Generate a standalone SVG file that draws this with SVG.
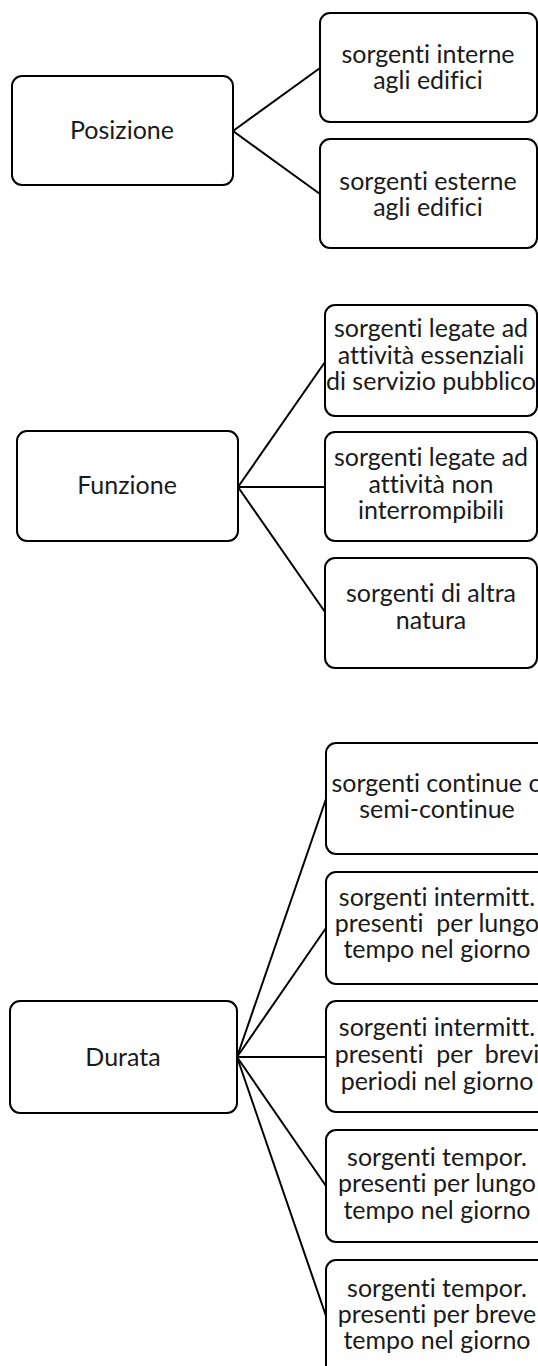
<svg xmlns="http://www.w3.org/2000/svg" width="538" height="1366" viewBox="0 0 538 1366">
<style>
.box{fill:#fff;stroke:#000;stroke-width:2}
.t{font-family:Lato,"Liberation Sans",sans-serif;font-size:25px;fill:#1a1a1a;text-anchor:middle;font-variant-ligatures:none;font-feature-settings:"liga" 0}
.c line{stroke:#000;stroke-width:2;stroke-linecap:round}
</style>
<rect width="538" height="1366" fill="#fff"/>
<g class="c" id="connectors">
<line x1="233" y1="131" x2="320" y2="68"/>
<line x1="233" y1="131" x2="320" y2="194"/>
<line x1="238" y1="487" x2="325" y2="362"/>
<line x1="238" y1="487" x2="325" y2="487"/>
<line x1="238" y1="487" x2="325" y2="612"/>
<line x1="237" y1="1057" x2="326" y2="799"/>
<line x1="237" y1="1057" x2="326" y2="928"/>
<line x1="237" y1="1057" x2="326" y2="1057"/>
<line x1="237" y1="1057" x2="326" y2="1186"/>
<line x1="237" y1="1057" x2="326" y2="1316"/>
</g>
<g id="posizione"><rect class="box" x="12" y="76" width="221" height="109" rx="10"/><text class="t" x="122" y="139">Posizione</text></g>
<g id="interne"><rect class="box" x="320" y="13" width="217" height="109" rx="10"/><text class="t" x="428" y="63">sorgenti interne</text><text class="t" x="428" y="89">agli edifici</text></g>
<g id="esterne"><rect class="box" x="320" y="139" width="217" height="109" rx="10"/><text class="t" x="428" y="190">sorgenti esterne</text><text class="t" x="428" y="216">agli edifici</text></g>
<g id="funzione"><rect class="box" x="17" y="431" width="221" height="110" rx="10"/><text class="t" x="127" y="494">Funzione</text></g>
<g id="essenziali"><rect class="box" x="325" y="305" width="212" height="111" rx="10"/><text class="t" x="431" y="337">sorgenti legate ad</text><text class="t" x="431" y="364">attività essenziali</text><text class="t" x="431" y="390">di servizio pubblico</text></g>
<g id="noninterr"><rect class="box" x="325" y="432" width="212" height="109" rx="10"/><text class="t" x="431" y="466">sorgenti legate ad</text><text class="t" x="431" y="493">attività non</text><text class="t" x="431" y="519">interrompibili</text></g>
<g id="altra"><rect class="box" x="325" y="558" width="212" height="110" rx="10"/><text class="t" x="431" y="602">sorgenti di altra</text><text class="t" x="431" y="629">natura</text></g>
<g id="durata"><rect class="box" x="10" y="1001" width="227" height="112" rx="10"/><text class="t" x="123" y="1066">Durata</text></g>
<g id="continue"><rect class="box" x="326" y="743" width="222" height="111" rx="10"/><text class="t" x="437" y="792">sorgenti continue o</text><text class="t" x="437" y="818">semi-continue</text></g>
<g id="intlungo"><rect class="box" x="326" y="872" width="222" height="112" rx="10"/><text class="t" x="437" y="906">sorgenti intermitt.</text><text class="t" x="437" y="932" xml:space="preserve">presenti  per lungo</text><text class="t" x="437" y="958">tempo nel giorno</text></g>
<g id="intbrevi"><rect class="box" x="326" y="1001" width="222" height="111" rx="10"/><text class="t" x="437" y="1036">sorgenti intermitt.</text><text class="t" x="437" y="1063" xml:space="preserve">presenti  per  brevi</text><text class="t" x="437" y="1090">periodi nel giorno</text></g>
<g id="templungo"><rect class="box" x="326" y="1130" width="222" height="112" rx="10"/><text class="t" x="437" y="1166">sorgenti tempor.</text><text class="t" x="437" y="1192">presenti per lungo</text><text class="t" x="437" y="1219">tempo nel giorno</text></g>
<g id="tempbreve"><rect class="box" x="326" y="1260" width="222" height="120" rx="10"/><text class="t" x="437" y="1297">sorgenti tempor.</text><text class="t" x="437" y="1323">presenti per breve</text><text class="t" x="437" y="1349">tempo nel giorno</text></g>
</svg>
